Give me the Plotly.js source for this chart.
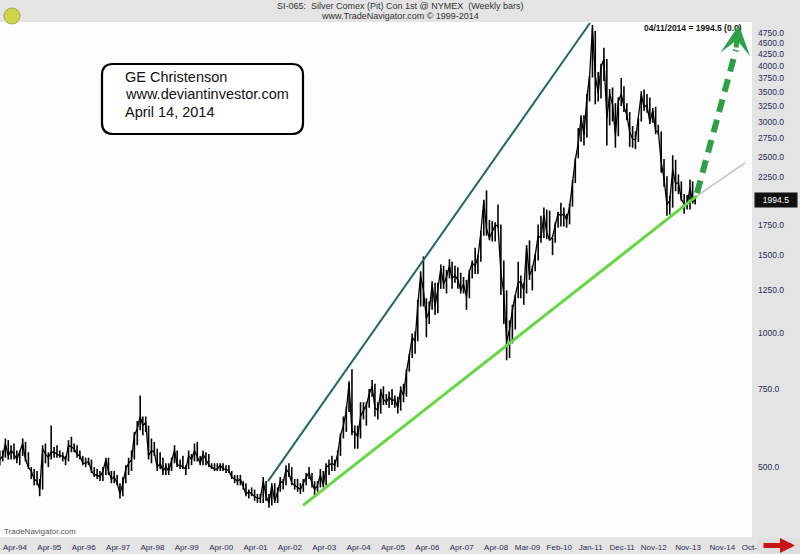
<!DOCTYPE html>
<html>
<head>
<meta charset="utf-8">
<script src="https://cdn.plot.ly/plotly-3.0.1.min.js"></script>
<style>
  html, body { margin: 0; padding: 0; background: #e4e4e4; }
  #chart { width: 800px; height: 554px; }
</style>
</head>
<body>
<div id="chart"></div>
<script>
// Silver, COMEX front month (cents per ounce), monthly high / low / close, Jan 1994 - Apr 2014
const firstYear = 1994;
const lastDate = '2014-04-11';

const high = [
  545,545,580,575,560,565,545,545,580,570,540,500,        // 1994
  495,490,470,560,565,540,620,555,560,545,540,530,        // 1995
  575,585,565,560,545,530,525,525,520,500,495,490,        // 1996
  500,525,525,490,490,480,460,475,505,525,545,600,        // 1997
  635,725,650,650,620,580,570,550,540,525,510,510,        // 1998
  525,560,545,520,530,505,545,535,565,570,530,545,        // 1999
  540,535,510,510,510,510,510,505,505,490,480,480,        // 2000
  480,465,460,445,450,445,435,435,475,465,435,460,        // 2001
  460,450,475,470,505,510,500,470,470,460,470,485,        // 2002
  500,485,465,465,495,490,510,520,530,520,545,595,        // 2003
  650,685,780,830,620,620,700,700,700,750,785,770,        // 2004
  700,750,760,730,740,750,725,720,760,770,830,900,        // 2005
  1000,1010,1190,1380,1490,1200,1180,1310,1300,1300,1430,1420, // 2006
  1390,1470,1450,1420,1410,1370,1340,1320,1390,1460,1560,1500, // 2007
  1700,2000,2100,1800,1790,1780,1950,1760,1460,1250,1070,1160, // 2008
  1220,1450,1350,1300,1580,1620,1420,1510,1760,1840,1920,1900, // 2009
  1890,1640,1780,1880,1970,1920,1860,1960,2210,2480,2900,3100, // 2010
  3100,3460,3800,4950,4800,3880,4050,4400,4150,3550,3580,3300, // 2011
  3400,3760,3600,3300,3150,2930,2850,3050,3510,3540,3460,3400, // 2012
  3220,3240,2950,2850,2470,2260,2040,2520,2460,2280,2200,2060, // 2013
  2050,2220,2200,2030                                          // 2014
];

const low = [
  505,515,525,520,520,520,510,505,530,515,495,470,
  455,455,430,445,510,500,520,525,525,525,515,505,
  515,540,540,525,520,505,500,505,485,475,470,465,
  465,480,480,460,460,455,425,430,460,480,490,520,
  560,605,590,600,520,510,530,490,495,480,480,480,
  490,510,500,495,495,480,495,505,515,515,505,505,
  505,500,495,490,490,490,490,485,485,470,460,455,
  455,445,430,425,430,420,415,415,415,420,405,410,
  415,415,440,445,455,475,455,445,440,435,440,455,
  470,450,430,440,450,450,455,480,490,490,500,530,
  580,600,665,590,550,550,580,640,620,680,720,650,
  640,660,690,690,680,690,680,660,670,700,720,820,
  880,900,960,1150,1150,980,1050,1130,1100,1110,1260,1260,
  1230,1330,1260,1300,1260,1230,1230,1130,1200,1330,1360,1360,
  1450,1660,1660,1620,1610,1610,1730,1220,1050,870,880,950,
  1020,1200,1200,1160,1230,1320,1250,1380,1460,1600,1640,1630,
  1620,1500,1600,1730,1740,1740,1730,1760,1930,2180,2480,2700,
  2650,2760,3330,3770,3280,3330,3380,3700,2650,2940,3000,2620,
  2780,3250,3150,3020,2630,2620,2600,2700,3000,3170,3140,2960,
  2980,2810,2800,2300,2140,1840,1850,1920,2090,2060,1990,1860,
  1900,1900,1960,1950
];

const close = [
  520,530,565,530,545,535,520,540,565,520,500,490,
  470,465,445,550,535,525,540,540,535,530,530,520,
  560,555,550,535,530,510,510,515,490,480,480,475,
  490,520,490,470,475,460,435,460,495,510,520,590,
  610,650,620,630,530,545,540,500,510,490,500,490,
  515,545,505,505,500,495,530,520,545,525,510,535,
  520,505,500,495,495,505,495,495,490,475,470,465,
  470,450,435,440,435,430,425,425,465,430,415,455,
  420,440,465,460,495,485,460,455,450,445,460,475,
  485,460,445,455,480,455,500,505,510,505,535,590,
  620,670,770,600,600,585,650,670,690,730,760,680,
  670,740,710,700,720,705,710,680,750,725,820,890,
  980,960,1160,1350,1250,1080,1120,1290,1150,1260,1400,1290,
  1340,1420,1330,1350,1320,1250,1290,1210,1380,1440,1420,1490,
  1690,1990,1720,1640,1690,1750,1750,1370,1230,960,1020,1130,
  1220,1300,1310,1250,1560,1350,1400,1500,1660,1640,1850,1690,
  1620,1650,1750,1860,1840,1860,1800,1930,2180,2460,2680,3060,
  2800,3400,3780,4870,3800,3480,3980,4150,3050,3460,3270,2800,
  3330,3460,3240,3100,2840,2740,2730,3040,3460,3230,3270,2990,
  3180,2850,2850,2430,2230,1950,1990,2340,2170,2190,2000,1960,
  1940,2130,1980,1994.5
];

// Date axis labels
const tickDates = ['1994-04-01','1995-04-01','1996-04-01','1997-04-01','1998-04-01','1999-04-01',
  '2000-04-01','2001-04-01','2002-04-01','2003-04-01','2004-04-01','2005-04-01','2006-04-01',
  '2007-04-01','2008-04-01','2009-03-01','2010-02-01','2011-01-01','2011-12-01','2012-11-01',
  '2013-11-01','2014-11-01','2015-10-01'];
const tickText = ['Apr-94','Apr-95','Apr-96','Apr-97','Apr-98','Apr-99','Apr-00','Apr-01',
  'Apr-02','Apr-03','Apr-04','Apr-05','Apr-06','Apr-07','Apr-08','Mar-09','Feb-10','Jan-11',
  'Dec-11','Nov-12','Nov-13','Nov-14','Oct-15'];

// Price axis labels
const priceTicks = [500,750,1000,1250,1500,1750,2250,2500,2750,3000,3250,3500,3750,4000,4250,4500,4750];

// Trend lines drawn over the price history
const resistanceDates = ['2001-11-05', '2011-03-20'];
const resistanceVals  = [465, 5000];
const supportDates    = ['2002-11-12', '2014-04-30'];
const supportVals     = [410, 2040];
const supportExtDates = ['2014-04-30', '2015-09-24'];
const supportExtVals  = [2040, 2420];
const targetDates     = ['2014-04-30', '2015-06-19'];
const targetVals      = [2070, 4350];
const targetTipDate   = '2015-07-20';
const targetTipVal    = 4950;
const lastClose       = 1994.5;

// ---- build traces ----
const dates = close.map((_, i) => {
  if (i === close.length - 1) return lastDate;
  const y = firstYear + Math.floor(i / 12);
  const m = (i % 12) + 1;
  return y + '-' + String(m).padStart(2, '0') + '-15';
});

const rangeX = [], rangeY = [];
dates.forEach((d, i) => { rangeX.push(d, d, null); rangeY.push(low[i], high[i], null); });

const traces = [
  { type: 'scatter', mode: 'lines', x: rangeX, y: rangeY, connectgaps: false,
    line: { color: '#000', width: 1.6 }, hoverinfo: 'skip' },
  { type: 'scatter', mode: 'lines', x: dates, y: close,
    line: { color: '#000', width: 1.3 }, name: 'Silver' },
  { type: 'scatter', mode: 'lines', x: resistanceDates, y: resistanceVals,
    line: { color: '#1f6a5c', width: 2 }, hoverinfo: 'skip' },
  { type: 'scatter', mode: 'lines', x: supportExtDates, y: supportExtVals,
    line: { color: '#c4c4c4', width: 1.6 }, hoverinfo: 'skip' },
  { type: 'scatter', mode: 'lines', x: supportDates, y: supportVals,
    line: { color: '#63d83f', width: 3 }, hoverinfo: 'skip' },
  { type: 'scatter', mode: 'lines', x: targetDates, y: targetVals,
    line: { color: '#2f9f45', width: 6, dash: '13px,8px' }, hoverinfo: 'skip' }
];

// ---- layout helpers (pixel -> paper inside the plot frame) ----
const W = 800, H = 554, ML = 0, MR = 48, MT = 22, MB = 17;
const PW = W - ML - MR, PH = H - MT - MB;
const px = v => (v - ML) / PW;
const py = v => (H - MB - v) / PH;

function roundRect(x0, y0, x1, y1, r) {
  const rx = r / PW, ry = r / PH;
  const a = px(x0), b = px(x1), t = py(y0), btm = py(y1);
  return `M${a + rx},${t} L${b - rx},${t} Q${b},${t} ${b},${t - ry} L${b},${btm + ry} ` +
         `Q${b},${btm} ${b - rx},${btm} L${a + rx},${btm} Q${a},${btm} ${a},${btm + ry} ` +
         `L${a},${t - ry} Q${a},${t} ${a + rx},${t} Z`;
}

const font = 'Arial, "Liberation Sans", sans-serif';

const layout = {
  width: W, height: H,
  margin: { l: ML, r: MR, t: MT, b: MB, pad: 0 },
  paper_bgcolor: '#e4e4e4',
  plot_bgcolor: '#fdfdfd',
  showlegend: false,
  font: { family: font, color: '#222' },
  xaxis: {
    type: 'date',
    range: ['1994-01-17', '2015-12-06'],
    tickmode: 'array', tickvals: tickDates, ticktext: tickText,
    tickfont: { size: 8, color: '#2b2b55', family: font },
    ticks: '', ticklabelshift: 8, ticklabelstandoff: 4,
    showgrid: false, zeroline: false, showline: false, fixedrange: true
  },
  yaxis: {
    type: 'log', side: 'right',
    range: [Math.log10(348), Math.log10(5026)],
    tickmode: 'array', tickvals: priceTicks, tickformat: '.1f',
    tickfont: { size: 8.5, color: '#2b2b55', family: font },
    ticks: '', ticklabelstandoff: 5,
    showgrid: false, zeroline: false, showline: false, fixedrange: true
  },
  shapes: [
    { type: 'path', xref: 'paper', yref: 'paper', path: roundRect(102, 64, 303, 134, 11),
      line: { color: '#000', width: 2.2 }, fillcolor: '#fff', layer: 'above' },
    { type: 'circle', xref: 'paper', yref: 'paper',
      x0: px(4), x1: px(20), y0: py(24), y1: py(8),
      fillcolor: '#cfd44c', line: { color: '#9bb23a', width: 1 } },
    { type: 'rect', xref: 'paper', yref: 'paper',
      x0: px(758), x1: px(800), y0: py(554), y1: py(538),
      fillcolor: '#dedede', line: { width: 0 }, layer: 'above' }
  ],
  annotations: [
    { xref: 'paper', yref: 'paper', x: 0.5 * W / PW, y: py(5.5), xanchor: 'center', yanchor: 'middle',
      text: 'SI-065:  Silver Comex (Pit) Con 1st @ NYMEX  (Weekly bars)', showarrow: false,
      font: { size: 9, color: '#333', family: font } },
    { xref: 'paper', yref: 'paper', x: 0.5 * W / PW, y: py(16.5), xanchor: 'center', yanchor: 'middle',
      text: 'www.TradeNavigator.com © 1999-2014', showarrow: false,
      font: { size: 9, color: '#333', family: font } },
    { xref: 'paper', yref: 'paper', x: px(123), y: py(76.5), xanchor: 'left', yanchor: 'middle',
      text: 'GE Christenson', showarrow: false, font: { size: 14.5, color: '#111', family: font } },
    { xref: 'paper', yref: 'paper', x: px(123), y: py(94), xanchor: 'left', yanchor: 'middle',
      text: 'www.deviantinvestor.com', showarrow: false, font: { size: 14.5, color: '#111', family: font } },
    { xref: 'paper', yref: 'paper', x: px(123), y: py(111.5), xanchor: 'left', yanchor: 'middle',
      text: 'April 14, 2014', showarrow: false, font: { size: 14.5, color: '#111', family: font } },
    { xref: 'paper', yref: 'paper', x: px(744), y: py(28), xanchor: 'right', yanchor: 'middle',
      text: '<b>04/11/2014 = ' + lastClose.toFixed(1) + ' (0.0)</b>', showarrow: false,
      font: { size: 8.5, color: '#111', family: font } },
    { xref: 'paper', yref: 'paper', x: px(2), y: py(531), xanchor: 'left', yanchor: 'middle',
      text: 'TradeNavigator.com', showarrow: false, font: { size: 8, color: '#555', family: font } },
    { xref: 'paper', yref: 'y', x: 1, xshift: 2, y: Math.log10(lastClose), xanchor: 'left', yanchor: 'middle',
      text: lastClose.toFixed(1), showarrow: false, bgcolor: '#111', borderpad: 2, width: 38,
      font: { size: 8.5, color: '#fff', family: font } },
    { xref: 'x', yref: 'y', x: targetTipDate, y: Math.log10(targetTipVal), text: '',
      showarrow: true, arrowhead: 3, arrowsize: 1.0, arrowwidth: 5, arrowcolor: '#2f9f45',
      ax: -3, ay: 24, axref: 'pixel', ayref: 'pixel' },
    { xref: 'paper', yref: 'paper', x: px(795), y: py(545.5), text: '',
      showarrow: true, arrowhead: 2, arrowsize: 0.6, arrowwidth: 5, arrowcolor: '#c81414',
      ax: -33, ay: 0 }
  ]
};

Plotly.newPlot('chart', traces, layout, { displayModeBar: false, staticPlot: true });
</script>
</body>
</html>
